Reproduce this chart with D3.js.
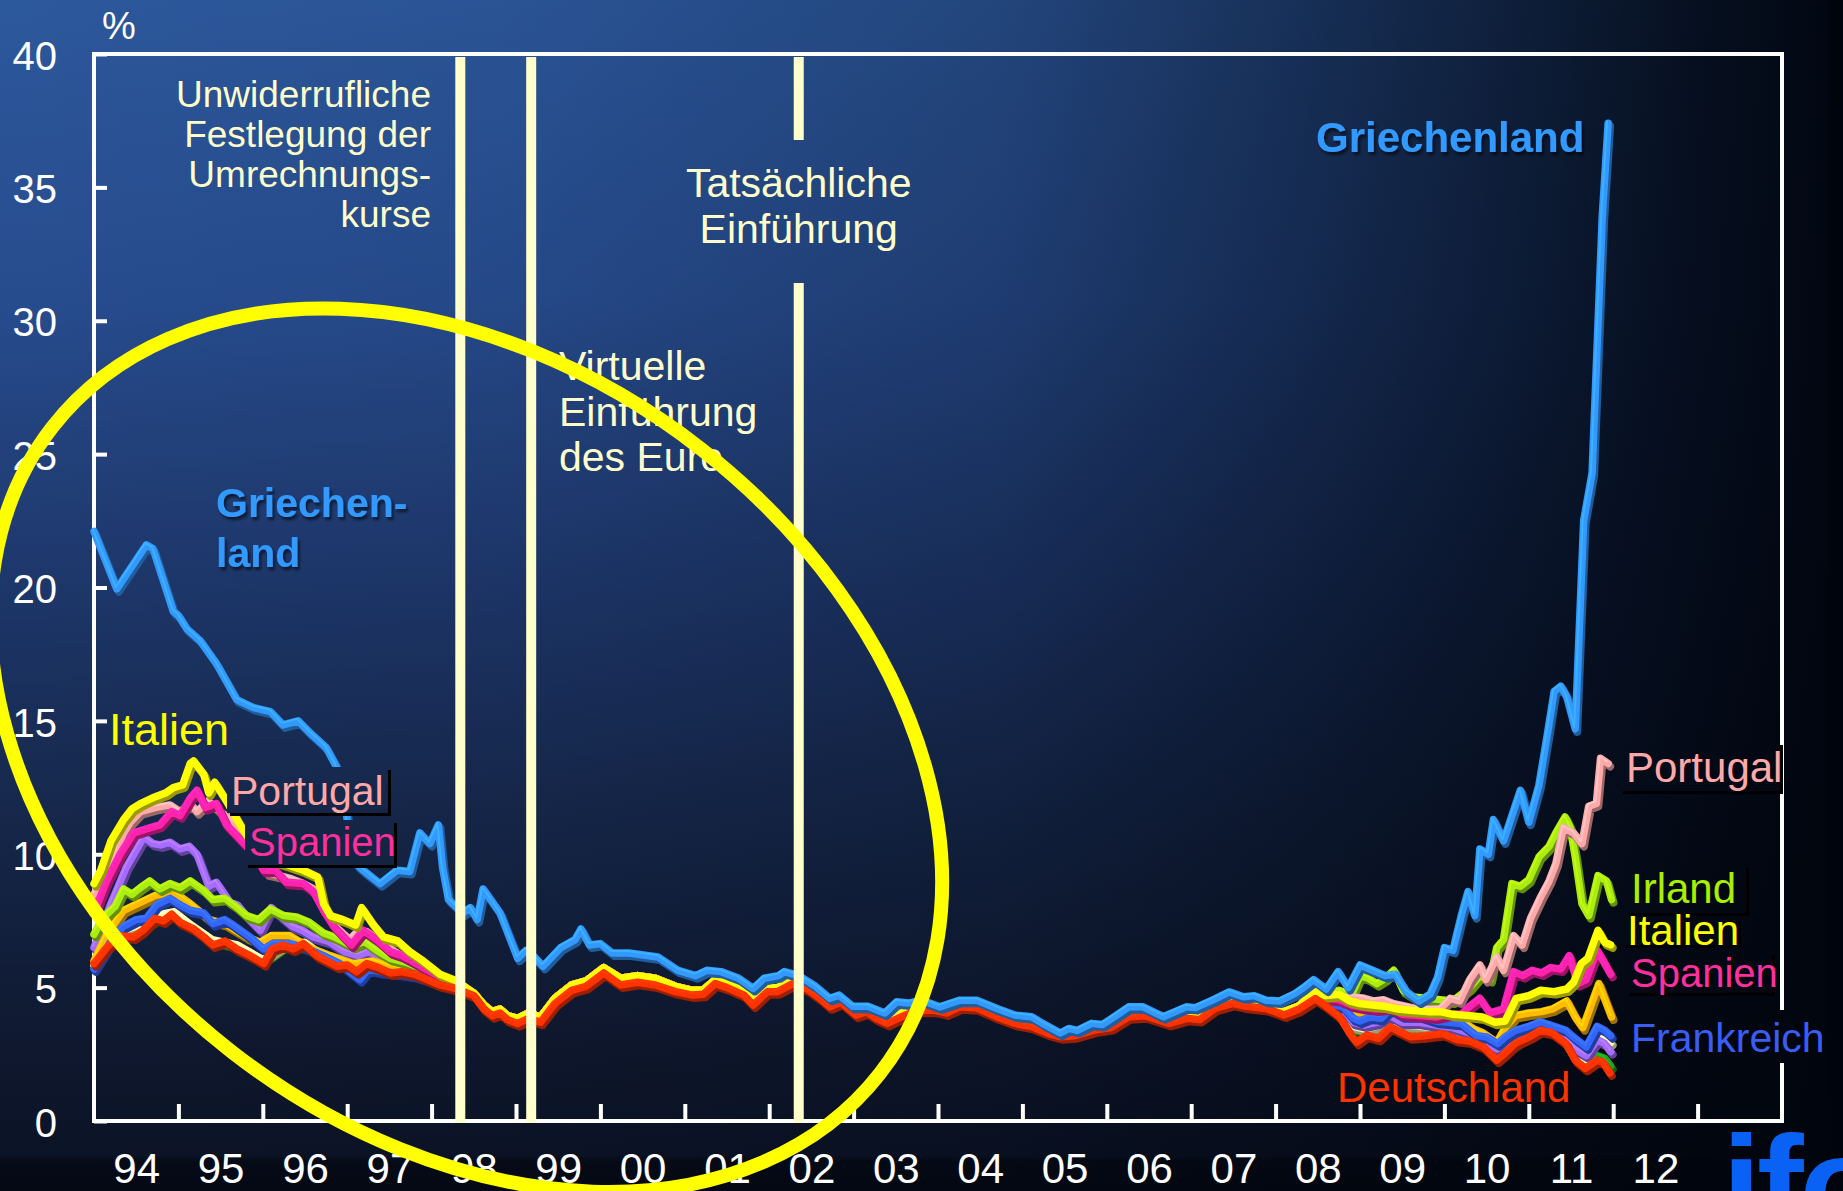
<!DOCTYPE html>
<html>
<head>
<meta charset="utf-8">
<script src="https://cdn.jsdelivr.net/npm/d3@7"></script>
<style>
html, body { margin: 0; padding: 0; background: #000; }
svg { display: block; font-family: "Liberation Sans", Arial, sans-serif; }
</style>
</head>
<body>
<svg id="chart" width="1843" height="1191"></svg>
<script>
// Renditen 10-jähriger Staatsanleihen, %

var yTickValues = [0, 5, 10, 15, 20, 25, 30, 35, 40];
var xTickYears = [1995, 1996, 1997, 1998, 1999, 2000, 2001, 2002, 2003, 2004, 2005, 2006, 2007, 2008, 2009, 2010, 2011, 2012, 2013];
var xLabelYears = [1994, 1995, 1996, 1997, 1998, 1999, 2000, 2001, 2002, 2003, 2004, 2005, 2006, 2007, 2008, 2009, 2010, 2011, 2012];
var xTickLabels = ["94", "95", "96", "97", "98", "99", "00", "01", "02", "03", "04", "05", "06", "07", "08", "09", "10", "11", "12"];
var eventYears = [1998.34, 1999.18, 2002.35];

var griechenland = [[1994.0,22.1],[1994.27,19.95],[1994.62,21.6],[1994.7,21.45],[1994.94,19.1],[1995.0,18.95],[1995.1,18.45],[1995.26,18.0],[1995.45,17.15],[1995.69,15.8],[1995.89,15.5],[1996.09,15.35],[1996.24,14.85],[1996.42,15.0],[1996.56,14.55],[1996.75,14.0],[1996.87,13.3],[1996.95,12.4],[1997.05,10.2],[1997.12,9.6],[1997.19,9.4],[1997.39,8.9],[1997.59,9.4],[1997.74,9.35],[1997.86,10.8],[1997.98,10.4],[1998.08,11.1],[1998.13,9.5],[1998.2,8.3],[1998.37,7.8],[1998.46,8.0],[1998.54,7.55],[1998.61,8.7],[1998.81,7.8],[1999.02,6.1],[1999.12,6.4],[1999.22,6.15],[1999.32,5.8],[1999.53,6.5],[1999.7,6.8],[1999.77,7.2],[1999.87,6.6],[2000.0,6.65],[2000.14,6.3],[2000.34,6.3],[2000.68,6.15],[2000.92,5.65],[2001.13,5.45],[2001.26,5.65],[2001.43,5.6],[2001.64,5.35],[2001.81,4.97],[2001.94,5.35],[2002.11,5.45],[2002.18,5.6],[2002.35,5.45],[2002.55,5.05],[2002.72,4.6],[2002.83,4.72],[2002.99,4.3],[2003.17,4.3],[2003.37,4.05],[2003.51,4.47],[2003.65,4.42],[2003.81,4.53],[2004.02,4.28],[2004.26,4.53],[2004.46,4.53],[2004.7,4.22],[2004.91,3.97],[2005.11,3.91],[2005.24,3.66],[2005.45,3.3],[2005.55,3.47],[2005.65,3.4],[2005.82,3.66],[2005.95,3.62],[2006.09,3.91],[2006.26,4.28],[2006.43,4.28],[2006.67,3.91],[2006.94,4.28],[2007.05,4.25],[2007.25,4.53],[2007.45,4.84],[2007.62,4.66],[2007.75,4.7],[2007.89,4.53],[2008.05,4.5],[2008.23,4.78],[2008.33,5.0],[2008.45,5.3],[2008.6,4.95],[2008.74,5.6],[2008.86,5.0],[2009.0,5.85],[2009.15,5.65],[2009.3,5.45],[2009.42,5.5],[2009.55,4.85],[2009.7,4.5],[2009.83,4.75],[2009.92,5.4],[2010.0,6.5],[2010.1,6.4],[2010.2,7.7],[2010.28,8.6],[2010.36,7.7],[2010.42,10.2],[2010.52,10.0],[2010.58,11.3],[2010.7,10.5],[2010.9,12.4],[2011.0,11.2],[2011.12,12.6],[2011.22,14.5],[2011.3,16.1],[2011.38,16.3],[2011.45,15.9],[2011.55,14.7],[2011.65,22.5],[2011.75,24.3],[2011.87,33.9],[2011.94,37.4]];

var deutschland = [[1994.0,5.9],[1994.15,6.5],[1994.3,6.95],[1994.47,6.9],[1994.58,7.15],[1994.72,7.6],[1994.82,7.5],[1994.92,7.75],[1995.02,7.45],[1995.18,7.2],[1995.3,6.9],[1995.41,6.6],[1995.55,6.75],[1995.69,6.45],[1995.85,6.2],[1996.01,5.9],[1996.11,6.45],[1996.24,6.6],[1996.36,6.45],[1996.48,6.65],[1996.64,6.2],[1996.76,6.0],[1996.88,5.8],[1997.0,5.85],[1997.11,5.6],[1997.23,5.9],[1997.37,5.75],[1997.51,5.55],[1997.65,5.6],[1997.8,5.5],[1997.95,5.3],[1998.1,5.1],[1998.3,4.95],[1998.5,4.7],[1998.62,4.2],[1998.72,3.95],[1998.81,4.05],[1998.9,3.8],[1999.02,3.65],[1999.15,3.85],[1999.29,3.7],[1999.46,4.4],[1999.66,4.9],[1999.83,5.05],[2000.04,5.55],[2000.24,5.1],[2000.44,5.2],[2000.65,5.1],[2000.89,4.85],[2001.09,4.72],[2001.22,4.75],[2001.36,5.15],[2001.5,5.0],[2001.7,4.72],[2001.81,4.35],[2001.98,4.85],[2002.1,4.85],[2002.28,5.15],[2002.45,4.95],[2002.6,4.6],[2002.72,4.28],[2002.85,4.45],[2003.03,3.97],[2003.15,4.1],[2003.27,3.85],[2003.4,3.66],[2003.57,3.91],[2003.75,4.15],[2003.95,4.16],[2004.1,4.05],[2004.26,4.28],[2004.45,4.25],[2004.7,3.91],[2004.91,3.66],[2005.1,3.55],[2005.31,3.28],[2005.45,3.16],[2005.62,3.2],[2005.85,3.41],[2006.05,3.5],[2006.26,3.91],[2006.45,3.95],[2006.74,3.66],[2006.95,3.85],[2007.1,3.8],[2007.28,4.22],[2007.49,4.41],[2007.65,4.3],[2007.89,4.22],[2008.1,3.97],[2008.28,4.2],[2008.47,4.59],[2008.6,4.3],[2008.76,3.9],[2008.88,3.28],[2008.96,2.95],[2009.08,3.22],[2009.22,3.1],[2009.36,3.53],[2009.47,3.35],[2009.59,3.16],[2009.78,3.2],[2009.98,3.28],[2010.15,3.05],[2010.3,3.0],[2010.46,2.78],[2010.54,2.53],[2010.62,2.28],[2010.72,2.55],[2010.84,2.91],[2011.01,3.16],[2011.14,3.41],[2011.28,3.3],[2011.44,2.91],[2011.55,2.28],[2011.67,1.97],[2011.81,2.28],[2011.88,2.2],[2011.96,1.8]];

// gemeinsamer Verlauf der übrigen Länder 1998-2008 (liegt zwischen Deutschland und Griechenland)
var euroCore = [[1998.5,4.8],[1998.62,4.35],[1998.72,4.1],[1998.81,4.2],[1998.9,3.95],[1999.02,3.85],[1999.15,4.05],[1999.29,3.9],[1999.46,4.6],[1999.66,5.1],[1999.83,5.25],[2000.04,5.75],[2000.24,5.35],[2000.44,5.45],[2000.65,5.35],[2000.89,5.05],[2001.09,4.9],[2001.22,4.92],[2001.36,5.3],[2001.5,5.15],[2001.7,4.88],[2001.81,4.5],[2001.98,5.0],[2002.1,5.0],[2002.28,5.28],[2002.45,5.1],[2002.6,4.75],[2002.72,4.42],[2002.85,4.58],[2003.03,4.1],[2003.15,4.2],[2003.27,3.97],[2003.4,3.8],[2003.57,4.05],[2003.75,4.28],[2003.95,4.28],[2004.1,4.17],[2004.26,4.4],[2004.45,4.37],[2004.7,4.05],[2004.91,3.8],[2005.1,3.68],[2005.31,3.4],[2005.45,3.28],[2005.62,3.32],[2005.85,3.53],[2006.05,3.62],[2006.26,4.03],[2006.45,4.07],[2006.74,3.78],[2006.95,3.97],[2007.1,3.92],[2007.28,4.34],[2007.49,4.53],[2007.65,4.42],[2007.89,4.34],[2008.1,4.1],[2008.28,4.32]];

var italienEarly = [[1994.0,8.9],[1994.08,9.4],[1994.2,10.5],[1994.35,11.3],[1994.45,11.7],[1994.55,11.9],[1994.72,12.15],[1994.85,12.3],[1994.94,12.5],[1995.05,12.6],[1995.14,13.4],[1995.18,13.5],[1995.3,13.0],[1995.36,12.3],[1995.43,12.7],[1995.57,12.0],[1995.75,11.0],[1995.95,10.0],[1996.1,9.8],[1996.3,9.6],[1996.48,9.4],[1996.65,9.15],[1996.72,8.15],[1996.8,7.7],[1996.95,7.55],[1997.1,7.35],[1997.17,8.0],[1997.3,7.4],[1997.43,6.9],[1997.6,6.75],[1997.74,6.35],[1997.9,6.0],[1998.1,5.5],[1998.3,5.25]];
var italienLate = [[2008.45,4.85],[2008.6,4.7],[2008.75,4.75],[2008.88,4.5],[2009.0,4.4],[2009.15,4.35],[2009.3,4.3],[2009.45,4.2],[2009.6,4.15],[2009.8,4.1],[2009.95,4.1],[2010.1,4.0],[2010.3,3.95],[2010.45,3.9],[2010.6,3.7],[2010.72,3.75],[2010.85,4.6],[2011.0,4.7],[2011.14,4.9],[2011.3,4.85],[2011.45,4.95],[2011.53,5.2],[2011.62,5.9],[2011.7,6.1],[2011.82,7.15],[2011.9,6.7],[2011.97,6.6]];

var portugalEarly = [[1994.0,8.5],[1994.19,9.5],[1994.35,10.8],[1994.43,11.2],[1994.55,11.6],[1994.72,11.75],[1994.9,11.85],[1995.02,11.6],[1995.14,11.9],[1995.22,11.6],[1995.35,12.0],[1995.5,11.6],[1995.69,11.1],[1995.85,10.6],[1996.05,9.3],[1996.2,9.2],[1996.32,9.1],[1996.48,8.9],[1996.6,8.7],[1996.72,7.9],[1996.84,7.35],[1997.03,6.8],[1997.12,7.1],[1997.23,7.1],[1997.4,6.7],[1997.59,6.3],[1997.74,6.05],[1997.9,5.8],[1998.1,5.4],[1998.3,5.15]];
var portugalLate = [[2008.45,4.95],[2008.6,4.7],[2008.75,4.65],[2008.92,4.65],[2009.05,4.6],[2009.16,4.5],[2009.28,4.55],[2009.4,4.4],[2009.55,4.3],[2009.68,4.2],[2009.82,4.2],[2009.95,4.2],[2010.07,4.6],[2010.18,4.5],[2010.3,5.3],[2010.42,5.85],[2010.49,5.3],[2010.62,6.15],[2010.7,5.65],[2010.82,6.95],[2010.92,6.6],[2011.02,7.6],[2011.14,8.4],[2011.24,9.0],[2011.32,9.65],[2011.41,11.0],[2011.53,10.8],[2011.63,10.4],[2011.71,11.8],[2011.8,11.9],[2011.85,13.6],[2011.94,13.4]];

var spanienEarly = [[1994.0,7.8],[1994.15,9.0],[1994.31,10.0],[1994.47,10.8],[1994.62,10.95],[1994.78,11.1],[1994.92,11.6],[1995.02,11.45],[1995.14,12.1],[1995.22,12.4],[1995.32,11.75],[1995.45,11.9],[1995.57,11.1],[1995.75,10.5],[1995.9,10.0],[1996.01,9.4],[1996.15,9.4],[1996.28,8.95],[1996.48,8.9],[1996.6,8.6],[1996.72,7.9],[1996.84,7.3],[1996.99,6.8],[1997.05,6.6],[1997.19,7.15],[1997.35,6.8],[1997.51,6.35],[1997.65,6.2],[1997.74,6.05],[1997.9,5.75],[1998.1,5.4],[1998.3,5.15]];
var spanienLate = [[2008.45,4.85],[2008.6,4.6],[2008.75,4.55],[2008.9,4.35],[2009.05,4.25],[2009.2,4.2],[2009.35,4.25],[2009.5,4.0],[2009.7,3.95],[2009.9,3.9],[2010.05,4.0],[2010.2,4.0],[2010.3,4.3],[2010.42,4.6],[2010.54,4.05],[2010.7,4.2],[2010.82,5.6],[2010.93,5.45],[2011.04,5.65],[2011.15,5.55],[2011.26,5.75],[2011.38,5.7],[2011.48,6.2],[2011.58,5.15],[2011.68,5.3],[2011.81,6.4],[2011.9,5.9],[2011.97,5.5]];

var irlandEarly = [[1994.0,7.0],[1994.1,7.6],[1994.25,8.05],[1994.35,8.7],[1994.45,8.5],[1994.55,8.75],[1994.66,9.0],[1994.78,8.7],[1994.9,8.9],[1995.02,8.75],[1995.14,9.0],[1995.3,8.65],[1995.41,8.3],[1995.55,8.35],[1995.68,8.05],[1995.81,7.7],[1995.95,7.55],[1996.09,7.95],[1996.25,7.7],[1996.4,7.65],[1996.55,7.45],[1996.72,7.05],[1996.85,6.9],[1997.07,6.55],[1997.2,6.75],[1997.35,6.4],[1997.51,6.1],[1997.7,5.95],[1997.9,5.7],[1998.1,5.35],[1998.3,5.1]];
var irlandLate = [[2008.45,4.9],[2008.6,4.75],[2008.75,4.9],[2008.9,4.75],[2009.0,5.45],[2009.1,5.35],[2009.2,5.15],[2009.3,5.35],[2009.4,5.65],[2009.51,4.9],[2009.63,4.65],[2009.8,4.6],[2009.95,4.55],[2010.1,4.5],[2010.3,5.0],[2010.42,5.45],[2010.54,5.3],[2010.62,6.5],[2010.7,6.8],[2010.8,8.9],[2010.9,8.8],[2011.0,9.05],[2011.12,9.9],[2011.24,10.3],[2011.32,10.8],[2011.43,11.4],[2011.49,11.0],[2011.55,9.9],[2011.63,8.15],[2011.71,7.7],[2011.82,9.2],[2011.92,9.0],[2011.98,8.3]];

var frankreichEarly = [[1994.0,5.7],[1994.12,6.3],[1994.23,6.9],[1994.35,7.3],[1994.5,7.55],[1994.62,7.6],[1994.74,8.1],[1994.9,8.35],[1995.02,8.1],[1995.14,7.9],[1995.3,7.8],[1995.41,7.4],[1995.55,7.55],[1995.65,7.35],[1995.85,6.9],[1996.01,6.45],[1996.12,6.65],[1996.32,6.65],[1996.5,6.5],[1996.72,6.2],[1996.91,5.9],[1997.05,5.55],[1997.15,5.3],[1997.25,5.7],[1997.4,5.6],[1997.6,5.55],[1997.8,5.45],[1998.05,5.2],[1998.3,5.0]];
var frankreichLate = [[2008.45,4.65],[2008.6,4.45],[2008.8,4.28],[2008.92,3.85],[2009.0,3.75],[2009.12,3.9],[2009.25,3.85],[2009.36,4.2],[2009.5,3.95],[2009.71,3.95],[2009.9,3.75],[2010.05,3.7],[2010.2,3.65],[2010.38,3.2],[2010.5,3.15],[2010.63,2.9],[2010.72,3.15],[2010.84,3.4],[2011.0,3.55],[2011.14,3.72],[2011.3,3.55],[2011.44,3.4],[2011.53,3.15],[2011.68,2.78],[2011.81,3.55],[2011.9,3.4],[2011.97,3.2]];

var belgienEarly = [[1994.0,6.5],[1994.2,8.15],[1994.38,9.5],[1994.59,10.65],[1994.7,10.4],[1994.79,10.35],[1994.9,10.45],[1995.02,10.2],[1995.13,10.3],[1995.22,10.0],[1995.36,8.8],[1995.45,8.95],[1995.61,8.2],[1995.7,8.1],[1995.83,7.6],[1995.97,7.15],[1996.1,8.0],[1996.24,7.6],[1996.35,7.3],[1996.47,7.15],[1996.6,6.9],[1996.79,6.72],[1996.97,6.35],[1997.13,6.2],[1997.25,6.35],[1997.4,6.15],[1997.56,6.05],[1997.75,5.85],[1997.96,5.55],[1998.15,5.3],[1998.35,5.1]];
var belgienLate = [[2008.45,4.7],[2008.6,4.45],[2008.8,4.2],[2008.92,3.7],[2009.05,3.6],[2009.2,3.7],[2009.36,3.95],[2009.5,3.7],[2009.7,3.7],[2009.9,3.6],[2010.1,3.5],[2010.3,3.3],[2010.46,3.05],[2010.62,2.7],[2010.75,2.95],[2010.9,3.2],[2011.05,3.4],[2011.2,3.6],[2011.4,3.3],[2011.55,2.7],[2011.68,2.45],[2011.81,3.05],[2011.9,2.9],[2011.97,2.6]];

var oesterreichEarly = [[1994.0,6.0],[1994.15,7.0],[1994.35,7.9],[1994.55,8.2],[1994.72,8.45],[1994.94,8.6],[1995.14,8.15],[1995.37,7.55],[1995.55,7.4],[1995.81,6.9],[1995.97,6.7],[1996.1,6.95],[1996.32,6.95],[1996.56,6.5],[1996.8,6.2],[1997.07,5.9],[1997.3,6.0],[1997.55,5.75],[1997.8,5.55],[1998.05,5.25],[1998.3,5.05]];
var oesterreichLate = [[2008.45,4.8],[2008.6,4.6],[2008.8,4.5],[2008.92,4.0],[2009.05,4.1],[2009.2,4.05],[2009.35,4.3],[2009.5,4.05],[2009.7,4.0],[2009.9,3.85],[2010.05,3.8],[2010.2,3.75],[2010.35,3.45],[2010.46,3.3],[2010.62,2.95],[2010.72,3.5],[2010.84,3.95],[2011.0,4.05],[2011.15,4.1],[2011.28,4.2],[2011.45,4.5],[2011.55,3.9],[2011.64,3.5],[2011.72,4.2],[2011.83,5.15],[2011.92,4.4],[2011.98,3.9]];

var niederlandeEarly = [[1994.0,5.85],[1994.2,6.8],[1994.4,7.2],[1994.6,7.4],[1994.8,7.75],[1994.95,7.85],[1995.15,7.35],[1995.4,6.8],[1995.7,6.6],[1996.0,6.05],[1996.25,6.6],[1996.5,6.7],[1996.75,6.1],[1997.0,5.9],[1997.25,5.95],[1997.5,5.7],[1997.8,5.55],[1998.1,5.2],[1998.3,5.0]];
var niederlandeLate = [[2008.45,4.68],[2008.6,4.4],[2008.8,4.1],[2008.92,3.55],[2009.05,3.45],[2009.2,3.55],[2009.36,3.85],[2009.5,3.6],[2009.7,3.55],[2009.9,3.5],[2010.1,3.3],[2010.3,3.15],[2010.46,2.95],[2010.62,2.55],[2010.75,2.85],[2010.9,3.1],[2011.05,3.35],[2011.2,3.55],[2011.4,3.2],[2011.55,2.55],[2011.68,2.3],[2011.81,3.3],[2011.9,3.1],[2011.97,2.95]];

var finnlandEarly = [[1994.0,5.8],[1994.2,6.7],[1994.4,7.1],[1994.6,7.3],[1994.8,7.7],[1994.95,7.8],[1995.15,7.3],[1995.4,6.75],[1995.7,6.55],[1996.0,6.0],[1996.25,6.55],[1996.5,6.65],[1996.75,6.05],[1997.0,5.85],[1997.25,5.9],[1997.5,5.6],[1997.8,5.5],[1998.1,5.15],[1998.3,4.98]];
var finnlandLate = [[2008.45,4.62],[2008.6,4.35],[2008.8,4.0],[2008.92,3.4],[2009.05,3.35],[2009.2,3.3],[2009.36,3.65],[2009.5,3.35],[2009.7,3.3],[2009.9,3.4],[2010.1,3.15],[2010.3,3.1],[2010.46,2.85],[2010.62,2.4],[2010.75,2.7],[2010.9,3.0],[2011.05,3.25],[2011.2,3.5],[2011.4,3.05],[2011.55,2.4],[2011.68,2.1],[2011.81,2.45],[2011.9,2.35],[2011.97,2.05]];

// Zeichenreihenfolge: unten zuerst
var series = [
  { name: "Finnland",     values: finnlandEarly.concat(euroCore, finnlandLate) },
  { name: "Niederlande",  values: niederlandeEarly.concat(euroCore, niederlandeLate) },
  { name: "Belgien",      values: belgienEarly.concat(euroCore, belgienLate) },
  { name: "Österreich",   values: oesterreichEarly.concat(euroCore, oesterreichLate) },
  { name: "Frankreich",   values: frankreichEarly.concat(euroCore, frankreichLate) },
  { name: "Irland",       values: irlandEarly.concat(euroCore, irlandLate) },
  { name: "Portugal",     values: portugalEarly.concat(euroCore, portugalLate) },
  { name: "Spanien",      values: spanienEarly.concat(euroCore, spanienLate) },
  { name: "Italien",      values: italienEarly.concat(euroCore, italienLate) },
  { name: "Deutschland",  values: deutschland },
  { name: "Griechenland", values: griechenland }
];

var lineColors = {
  "Finnland": "#1aa51a", "Niederlande": "#ffffb0", "Belgien": "#a46cff", "Österreich": "#ffbb00",
  "Frankreich": "#3366ff", "Irland": "#aaee11", "Portugal": "#ffaaaa", "Spanien": "#ff22aa",
  "Italien": "#ffff00", "Deutschland": "#ff3300", "Griechenland": "#3399ff"
};

var W = 1843, H = 1191;
var svg = d3.select("#chart");
var defs = svg.append("defs");

var x = d3.scaleLinear().domain([1994, 2014]).range([94, 1782]);
var y = d3.scaleLinear().domain([0, 40]).range([1121, 54]);

// Hintergrund
var gv = defs.append("linearGradient").attr("id", "bgV").attr("gradientUnits", "userSpaceOnUse")
  .attr("x1", 0).attr("y1", 0).attr("x2", 0).attr("y2", H);
[[0, "#2c589c"], [0.25, "#274c8e"], [0.5, "#1d3669"], [0.7, "#152648"], [0.88, "#0f182f"], [0.97, "#0b1326"], [0.975, "#050b17"], [1, "#040914"]]
  .forEach(function (s) { gv.append("stop").attr("offset", s[0]).attr("stop-color", s[1]); });

var gh = defs.append("linearGradient").attr("id", "bgH").attr("gradientUnits", "userSpaceOnUse")
  .attr("x1", 0).attr("y1", 0).attr("x2", W).attr("y2", 0);
[[0, 0], [0.27, 0.05], [0.54, 0.22], [0.7, 0.47], [0.81, 0.66], [0.92, 0.86], [0.99, 0.95], [0.993, 1], [1, 1]]
  .forEach(function (s) { gh.append("stop").attr("offset", s[0]).attr("stop-color", "#00040c").attr("stop-opacity", s[1]); });

function bgRect(sel, bx, by, bw, bh) {
  sel.append("rect").attr("x", bx).attr("y", by).attr("width", bw).attr("height", bh).attr("fill", "url(#bgV)");
  sel.append("rect").attr("x", bx).attr("y", by).attr("width", bw).attr("height", bh).attr("fill", "url(#bgH)");
}
bgRect(svg, 0, 0, W, H);

var shadow = defs.append("filter").attr("id", "txtShadow").attr("x", "-10%").attr("y", "-20%").attr("width", "130%").attr("height", "150%");
shadow.append("feDropShadow").attr("dx", 2).attr("dy", 3).attr("stdDeviation", 1.5).attr("flood-color", "#000").attr("flood-opacity", 0.6);

// Rahmen
svg.append("rect").attr("x", x(1994)).attr("y", y(40)).attr("width", x(2014) - x(1994)).attr("height", y(0) - y(40))
  .attr("fill", "none").attr("stroke", "#ffffff").attr("stroke-width", 4);

// Achsen
var yAxis = d3.axisLeft(y).tickValues(yTickValues).tickSizeInner(-13).tickSizeOuter(0).tickPadding(37);
var gy = svg.append("g").attr("transform", "translate(" + x(1994) + ",0)").call(yAxis);
gy.select(".domain").remove();
gy.selectAll("line").attr("stroke", "#fff").attr("stroke-width", 4);
gy.selectAll("text").attr("fill", "#fff").attr("font-size", 40).attr("font-family", "Liberation Sans, Arial, sans-serif").attr("dy", "0.38em");

var xAxis = d3.axisBottom(x).tickValues(xTickYears).tickSizeInner(-17).tickSizeOuter(0).tickFormat("");
var gx = svg.append("g").attr("transform", "translate(0," + y(0) + ")").call(xAxis);
gx.select(".domain").remove();
gx.selectAll("line").attr("stroke", "#fff").attr("stroke-width", 4);

var xLab = d3.axisBottom(x).tickValues(xLabelYears.map(function (d) { return d + 0.5; }))
  .tickSize(0).tickPadding(32).tickFormat(function (d, i) { return xTickLabels[i]; });
var gxl = svg.append("g").attr("transform", "translate(0," + y(0) + ")").call(xLab);
gxl.select(".domain").remove();
gxl.selectAll("text").attr("fill", "#fff").attr("font-size", 42).attr("font-family", "Liberation Sans, Arial, sans-serif");

svg.append("text").attr("x", 102).attr("y", 39).attr("fill", "#fff").attr("font-size", 38).text("%");

// Linien
var line = d3.line().x(function (d) { return x(d[0]); }).y(function (d) { return y(d[1]); });
var plot = svg.append("g").attr("fill", "none").attr("stroke-linejoin", "round").attr("stroke-linecap", "round");

series.forEach(function (s) {
  var c = d3.color(lineColors[s.name]);
  var g = plot.append("g");
  g.append("path").attr("d", line(s.values)).attr("transform", "translate(2,3)")
    .attr("stroke", c.darker(1.4)).attr("stroke-width", 8);
  g.append("path").attr("d", line(s.values)).attr("stroke", c).attr("stroke-width", 7.5);
  g.append("path").attr("d", line(s.values)).attr("transform", "translate(-1,-2)")
    .attr("stroke", c.brighter(0.7)).attr("stroke-width", 2).attr("stroke-opacity", 0.55);
});

// Ereignislinien
var evColor = "#ffffcc";
eventYears.forEach(function (ey, i) {
  if (i === 2) {
    svg.append("rect").attr("x", x(ey) - 5).attr("y", 57).attr("width", 10).attr("height", 140 - 57).attr("fill", evColor);
    svg.append("rect").attr("x", x(ey) - 5).attr("y", 283).attr("width", 10).attr("height", 1123 - 283).attr("fill", evColor);
  } else {
    svg.append("rect").attr("x", x(ey) - 5).attr("y", 57).attr("width", 10).attr("height", 1123 - 57).attr("fill", evColor);
  }
});

var ann = svg.append("g").attr("fill", evColor);
["Unwiderrufliche", "Festlegung der", "Umrechnungs-", "kurse"].forEach(function (t, i) {
  ann.append("text").attr("x", 431).attr("y", 107 + i * 40).attr("text-anchor", "end").attr("font-size", 37).text(t);
});
["Tatsächliche", "Einführung"].forEach(function (t, i) {
  ann.append("text").attr("x", x(eventYears[2])).attr("y", 197 + i * 46).attr("text-anchor", "middle").attr("font-size", 41).text(t);
});
["Virtuelle", "Einführung", "des Euro"].forEach(function (t, i) {
  ann.append("text").attr("x", 559).attr("y", 380 + i * 45.5).attr("font-size", 41).text(t);
});

// Beschriftungen der Länder
var labels = [
  { text: "Portugal", x: 231, y: 805, size: 41, color: "#ffa8a8", box: [227, 767, 161, 46] },
  { text: "Spanien", x: 249, y: 856, size: 40, color: "#ff2f9c", box: [245, 820, 149, 45] },
  { text: "Portugal", x: 1626, y: 782, size: 42, color: "#ffa8a8", box: [1620, 742, 160, 49] },
  { text: "Irland", x: 1631, y: 903, size: 42, color: "#aaee00", box: [1626, 865, 120, 48] },
  { text: "Italien", x: 1627, y: 945, size: 42, color: "#ffff00", box: [1622, 917, 116, 28] },
  { text: "Spanien", x: 1631, y: 987, size: 40, color: "#ff2f9c", box: [1626, 952, 146, 41] },
  { text: "Frankreich", x: 1631, y: 1052, size: 41, color: "#3a5ef5", box: [1624, 1010, 208, 53], noShadow: true },
  { text: "Deutschland", x: 1337, y: 1102, size: 42, color: "#ff3300" },
  { text: "Italien", x: 109, y: 745, size: 45, color: "#ffff00" }
];
labels.forEach(function (l) {
  var g = svg.append("g");
  if (l.box) {
    if (!l.noShadow) {
      g.append("rect").attr("x", l.box[0] + 3).attr("y", l.box[1] + 3).attr("width", l.box[2]).attr("height", l.box[3]).attr("fill", "#000");
    }
    bgRect(g, l.box[0], l.box[1], l.box[2], l.box[3]);
  }
  g.append("text").attr("x", l.x).attr("y", l.y).attr("font-size", l.size).attr("fill", l.color).text(l.text);
});

var grLab = svg.append("g").attr("fill", "#3399ff").attr("font-weight", "bold").attr("filter", "url(#txtShadow)");
grLab.append("text").attr("x", 216).attr("y", 517).attr("font-size", 41).text("Griechen-");
grLab.append("text").attr("x", 216).attr("y", 567).attr("font-size", 41).text("land");
grLab.append("text").attr("x", 1316).attr("y", 152).attr("font-size", 42).text("Griechenland");

// gelbe Ellipse
svg.append("ellipse")
  .attr("transform", "translate(" + x(1998.41) + "," + y(13.9) + ") rotate(38)")
  .attr("rx", 525).attr("ry", 382)
  .attr("fill", "none").attr("stroke", "#ffff00").attr("stroke-width", 14);

// ifo Logo
svg.append("text").attr("x", 1722).attr("y", 1233).attr("font-size", 140).attr("font-weight", "bold")
  .attr("fill", "#0a62f5").attr("letter-spacing", -4).text("ifo");
</script>
</body>
</html>
